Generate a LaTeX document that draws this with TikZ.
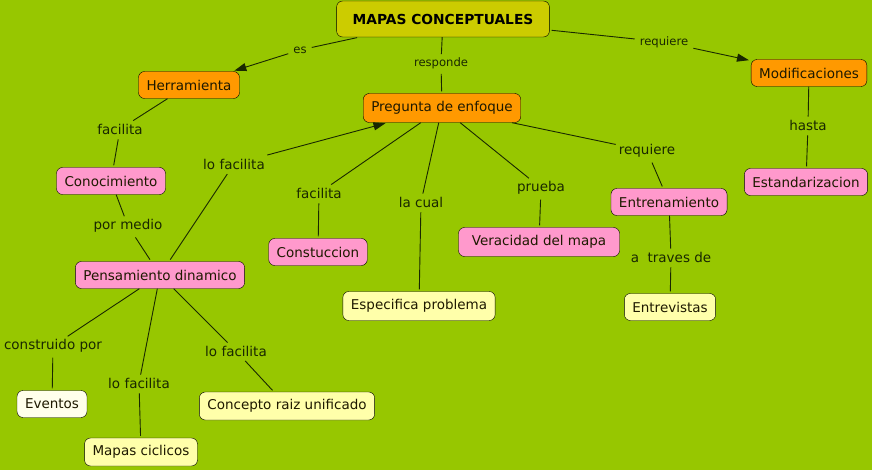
\documentclass[tikz,border=0pt]{standalone}
\usepackage{fontspec}
\setmainfont{DejaVu Sans}
\usetikzlibrary{arrows.meta}
\definecolor{fondo}{RGB}{151,199,0}
\definecolor{titulo}{RGB}{204,204,0}
\definecolor{naranja}{RGB}{255,153,0}
\definecolor{rosa}{RGB}{255,153,204}
\definecolor{crema}{RGB}{255,255,170}
\definecolor{blanco}{RGB}{255,255,235}
\definecolor{texto}{RGB}{30,25,0}
\definecolor{enlacetx}{RGB}{25,40,0}
\begin{document}
\begin{tikzpicture}[x=1pt,y=-1pt,
    concepto/.style={draw=black,rounded corners=6pt,inner xsep=8pt,minimum height=27pt,
      text=texto,font=\fontsize{13.5}{16}\selectfont},
    enlace/.style={inner sep=3pt,text=enlacetx,font=\fontsize{13.5}{16}\selectfont},
    chico/.style={inner sep=3pt,text=enlacetx,font=\fontsize{11.6}{14}\selectfont},
    linea/.style={draw=enlacetx,line width=0.9pt,shorten <=2pt,shorten >=2pt},
    flecha/.style={linea,-{Triangle[length=12pt,width=8pt]}}]
    \fill[fondo] (0,0) rectangle (872,470);
    \useasboundingbox (0,0) rectangle (872,470);
    % conceptos
    \node[concepto,fill=titulo,minimum height=36pt,inner xsep=16pt,text=black,
      font=\bfseries\fontsize{13.8}{16}\selectfont] (mapas) at (443,19) {MAPAS CONCEPTUALES};
    \node[concepto,fill=naranja] (herr) at (189,85) {Herramienta};
    \node[concepto,fill=naranja,minimum height=29pt] (preg) at (442,108) {Pregunta de enfoque};
    \node[concepto,fill=naranja] (modif) at (809,73) {Modificaciones};
    \node[concepto,fill=rosa] (conoc) at (111,181) {Conocimiento};
    \node[concepto,fill=rosa] (pens) at (160,275) {Pensamiento dinamico};
    \node[concepto,fill=rosa] (const) at (318,252) {Constuccion};
    \node[concepto,fill=rosa,minimum height=29pt,minimum width=161pt] (verac) at (539,242) {Veracidad del mapa};
    \node[concepto,fill=rosa] (entren) at (669,202) {Entrenamiento};
    \node[concepto,fill=rosa] (estand) at (806,182) {Estandarizacion};
    \node[concepto,fill=crema,minimum height=29pt] (espec) at (419,306) {Especifica problema};
    \node[concepto,fill=crema] (entrev) at (670,307) {Entrevistas};
    \node[concepto,fill=blanco] (event) at (52,404) {Eventos};
    \node[concepto,fill=crema,minimum height=28pt] (raiz) at (287,406) {Concepto raiz unificado};
    \node[concepto,fill=crema,minimum height=28pt] (ciclo) at (141,452) {Mapas ciclicos};
    % palabras de enlace
    \node[chico] (es) at (300,50) {es};
    \node[chico] (resp) at (441,63) {responde};
    \node[chico] (req1) at (664,42) {requiere};
    \node[enlace] (fac1) at (120,129) {facilita};
    \node[enlace] (lofac1) at (234,164) {lo facilita};
    \node[enlace] (medio) at (128,226) {por medio};
    \node[enlace] (fac2) at (319,193) {facilita};
    \node[enlace] (cual) at (421,202) {la cual};
    \node[enlace] (prueba) at (541,188) {prueba};
    \node[enlace] (req2) at (647,151) {requiere};
    \node[enlace] (hasta) at (808,125) {hasta};
    \node[enlace] (traves) at (671,257) {a\ \ traves de};
    \node[enlace] (constr) at (53,346) {construido por};
    \node[enlace] (lofac2) at (139,383) {lo facilita};
    \node[enlace] (lofac3) at (236,351) {lo facilita};
    % conexiones
    \draw[linea] (mapas) -- (es);
    \draw[flecha] (es) -- (herr);
    \draw[linea] (mapas) -- (resp) -- (preg);
    \draw[linea] (mapas) -- (req1);
    \draw[flecha] (req1) -- (modif);
    \draw[linea] (herr) -- (fac1) -- (conoc);
    \draw[linea] (conoc) -- (medio) -- (pens);
    \draw[linea] (pens) -- (lofac1);
    \draw[flecha] (lofac1) -- (preg);
    \draw[linea] (preg) -- (fac2) -- (const);
    \draw[linea] (preg) -- (cual) -- (espec);
    \draw[linea] (preg) -- (prueba) -- (verac);
    \draw[linea] (preg) -- (req2) -- (entren);
    \draw[linea] (modif) -- (hasta) -- (estand);
    \draw[linea] (entren) -- (traves) -- (entrev);
    \draw[linea] (pens) -- (constr) -- (event);
    \draw[linea] (pens) -- (lofac2) -- (ciclo);
    \draw[linea] (pens) -- (lofac3) -- (raiz);
\end{tikzpicture}
\end{document}
